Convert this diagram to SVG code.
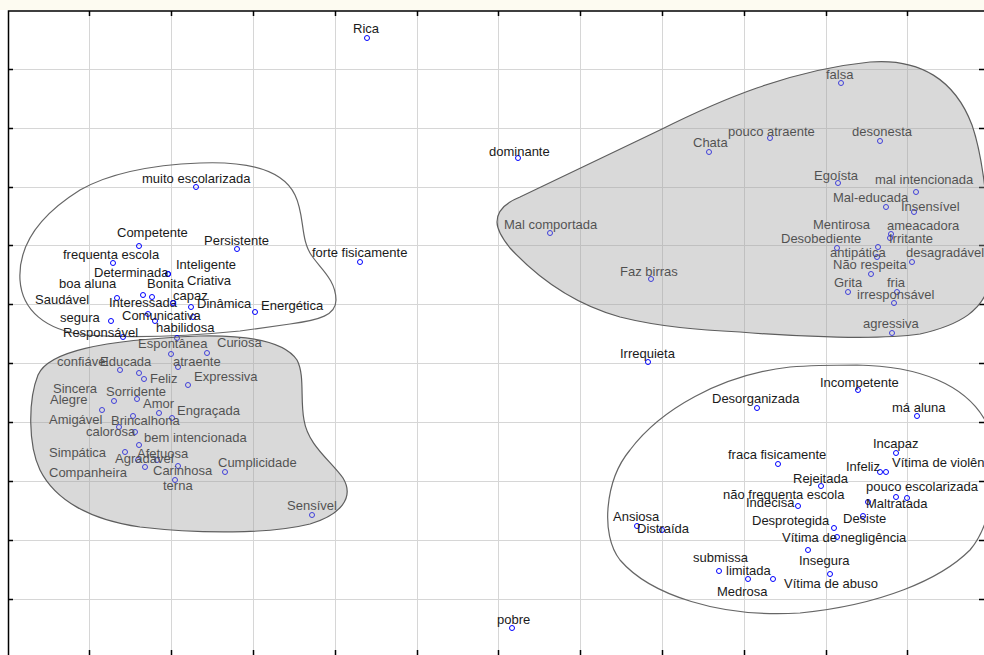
<svg xmlns="http://www.w3.org/2000/svg" width="984" height="655" viewBox="0 0 984 655">
<style>
text{font-family:"Liberation Sans",Arial,sans-serif;font-size:13px;fill:#1a1a1a}
.pt{fill:none;stroke:#0000ff;stroke-width:1}
.grid{stroke:#d6d6d6;stroke-width:1;fill:none}
.tick{stroke:#000;stroke-width:1.5;fill:none}
.blobw{fill:none;stroke:#666;stroke-width:1.2}
.blobg{fill:#a0a0a0;fill-opacity:0.4;stroke:#5e5e5e;stroke-width:1.2}
</style>
<rect x="0" y="0" width="984" height="655" fill="#ffffff"/>
<rect x="0" y="0" width="984" height="10" fill="#fdfbf1"/>
<g id="grid">
<path class="grid" d="M89.5 11V655M171.5 11V655M253.5 11V655M335.5 11V655M417.5 11V655M498.5 11V655M580.5 11V655M662.5 11V655M744.5 11V655M826.5 11V655M907.5 11V655"/>
<path class="grid" d="M8 69.5H984M8 128.5H984M8 187.5H984M8 245.5H984M8 304.5H984M8 363.5H984M8 422.5H984M8 481.5H984M8 540.5H984M8 599.5H984"/>
</g>
<g id="axes">
<path class="tick" d="M8.5 655V11H984"/>
<path class="tick" d="M89.5 11V16M171.5 11V16M253.5 11V16M335.5 11V16M417.5 11V16M498.5 11V16M580.5 11V16M662.5 11V16M744.5 11V16M826.5 11V16M907.5 11V16"/>
<path class="tick" d="M89.5 650V655M171.5 650V655M253.5 650V655M335.5 650V655M417.5 650V655M498.5 650V655M580.5 650V655M662.5 650V655M744.5 650V655M826.5 650V655M907.5 650V655"/>
<path class="tick" d="M8 69.5H13M8 128.5H13M8 187.5H13M8 245.5H13M8 304.5H13M8 363.5H13M8 422.5H13M8 481.5H13M8 540.5H13M8 599.5H13"/>
<path class="tick" d="M979 69.5H984M979 128.5H984M979 187.5H984M979 245.5H984M979 304.5H984M979 363.5H984M979 422.5H984M979 481.5H984M979 540.5H984M979 599.5H984"/>
</g>
<g id="outline-positive">
<path class="blobw" d="M200,163 C250,161 283,170 295,195 C305,215 300,240 312,256 C320,268 336,280 336,300 C336,315 320,320 290,324 L240,331 C190,336 130,338 85,335 C45,330 22,310 20,280 C18,245 40,215 80,190 C110,173 150,165 200,163 Z"/>
</g>
<g id="outline-vulnerable">
<path class="blobw" d="M857,365 C920,366 965,385 985,420 C1000,460 995,520 970,550 C940,580 880,605 800,613 C720,618 650,595 620,560 C600,535 605,480 630,450 C660,410 720,375 790,367 C815,365 835,365 857,365 Z"/>
</g>
<g id="nodes">
<g id="n-rica"><circle class="pt" cx="367" cy="38" r="2.5"/><text x="353" y="33">Rica</text></g>
<g id="n-dominante"><circle class="pt" cx="518" cy="158" r="2.5"/><text x="489" y="156">dominante</text></g>
<g id="n-forte"><circle class="pt" cx="360" cy="262" r="2.5"/><text x="312" y="257">forte fisicamente</text></g>
<g id="n-irrequieta"><circle class="pt" cx="648" cy="362" r="2.5"/><text x="620" y="358">Irrequieta</text></g>
<g id="n-pobre"><circle class="pt" cx="512" cy="628" r="2.5"/><text x="497" y="624">pobre</text></g>

<g id="n-muito"><circle class="pt" cx="196" cy="187" r="2.5"/><text x="142" y="183">muito escolarizada</text></g>
<g id="n-competente"><circle class="pt" cx="139" cy="246" r="2.5"/><text x="117" y="237">Competente</text></g>
<g id="n-persistente"><circle class="pt" cx="237" cy="249" r="2.5"/><text x="204" y="245">Persistente</text></g>
<g id="n-frequenta"><circle class="pt" cx="113" cy="263" r="2.5"/><text x="63" y="259">frequenta escola</text></g>
<g id="n-inteligente"><circle class="pt" cx="168" cy="274" r="2.5"/><text x="176" y="269">Inteligente</text></g>
<g id="n-determinada"><circle class="pt" cx="168" cy="274" r="2.5"/><text x="94" y="277">Determinada</text></g>
<g id="n-boa"><circle class="pt" cx="117" cy="298" r="2.5"/><text x="59" y="288">boa aluna</text></g>
<g id="n-bonita"><circle class="pt" cx="143" cy="295" r="2.5"/><text x="147" y="288">Bonita</text></g>
<g id="n-criativa"><circle class="pt" cx="193" cy="317" r="2.5"/><text x="187" y="285">Criativa</text></g>
<g id="n-saudavel"><circle class="pt" cx="148" cy="314" r="2.5"/><text x="35" y="304">Saudável</text></g>
<g id="n-interessada"><circle class="pt" cx="152" cy="297" r="2.5"/><text x="109" y="307">Interessada</text></g>
<g id="n-capaz"><circle class="pt" cx="173" cy="303" r="2.5"/><text x="173" y="300">capaz</text></g>
<g id="n-dinamica"><circle class="pt" cx="191" cy="307" r="2.5"/><text x="197" y="308">Dinâmica</text></g>
<g id="n-energetica"><circle class="pt" cx="255" cy="312" r="2.5"/><text x="261" y="310">Energética</text></g>
<g id="n-segura"><circle class="pt" cx="111" cy="321" r="2.5"/><text x="60" y="322">segura</text></g>
<g id="n-comunicativa"><circle class="pt" cx="155" cy="321" r="2.5"/><text x="122" y="320">Comunicativa</text></g>
<g id="n-responsavel"><circle class="pt" cx="123" cy="337" r="2.5"/><text x="63" y="337">Responsável</text></g>
<g id="n-habilidosa"><circle class="pt" cx="177" cy="338" r="2.5"/><text x="156" y="332">habilidosa</text></g>

<g id="n-espontanea"><circle class="pt" cx="171" cy="354" r="2.5"/><text x="138" y="348">Espontânea</text></g>
<g id="n-curiosa"><circle class="pt" cx="207" cy="353" r="2.5"/><text x="217" y="347">Curiosa</text></g>
<g id="n-confiavel"><circle class="pt" cx="120" cy="370" r="2.5"/><text x="57" y="366">confiável</text></g>
<g id="n-educada"><circle class="pt" cx="139" cy="373" r="2.5"/><text x="100" y="366">Educada</text></g>
<g id="n-atraente"><circle class="pt" cx="178" cy="367" r="2.5"/><text x="173" y="366">atraente</text></g>
<g id="n-feliz"><circle class="pt" cx="144" cy="379" r="2.5"/><text x="150" y="383">Feliz</text></g>
<g id="n-expressiva"><circle class="pt" cx="188" cy="385" r="2.5"/><text x="194" y="381">Expressiva</text></g>
<g id="n-sincera"><circle class="pt" cx="114" cy="401" r="2.5"/><text x="53" y="393">Sincera</text></g>
<g id="n-sorridente"><circle class="pt" cx="137" cy="399" r="2.5"/><text x="106" y="396">Sorridente</text></g>
<g id="n-alegre"><circle class="pt" cx="102" cy="410" r="2.5"/><text x="50" y="404">Alegre</text></g>
<g id="n-amor"><circle class="pt" cx="159" cy="413" r="2.5"/><text x="143" y="408">Amor</text></g>
<g id="n-engracada"><circle class="pt" cx="172" cy="418" r="2.5"/><text x="177" y="415">Engraçada</text></g>
<g id="n-amigavel"><circle class="pt" cx="119" cy="427" r="2.5"/><text x="49" y="424">Amigável</text></g>
<g id="n-brincalhona"><circle class="pt" cx="133" cy="416" r="2.5"/><text x="111" y="425">Brincalhona</text></g>
<g id="n-calorosa"><circle class="pt" cx="135" cy="432" r="2.5"/><text x="86" y="436">calorosa</text></g>
<g id="n-bem"><circle class="pt" cx="139" cy="445" r="2.5"/><text x="144" y="442">bem intencionada</text></g>
<g id="n-simpatica"><circle class="pt" cx="125" cy="452" r="2.5"/><text x="49" y="457">Simpática</text></g>
<g id="n-afetuosa"><circle class="pt" cx="157" cy="460" r="2.5"/><text x="137" y="458">Afetuosa</text></g>
<g id="n-agradavel"><circle class="pt" cx="138" cy="460" r="2.5"/><text x="115" y="463">Agradável</text></g>
<g id="n-carinhosa"><circle class="pt" cx="178" cy="466" r="2.5"/><text x="153" y="475">Carinhosa</text></g>
<g id="n-cumplicidade"><circle class="pt" cx="225" cy="472" r="2.5"/><text x="218" y="467">Cumplicidade</text></g>
<g id="n-companheira"><circle class="pt" cx="145" cy="467" r="2.5"/><text x="49" y="477">Companheira</text></g>
<g id="n-terna"><circle class="pt" cx="175" cy="480" r="2.5"/><text x="163" y="490">terna</text></g>
<g id="n-sensivel"><circle class="pt" cx="312" cy="515" r="2.5"/><text x="287" y="510">Sensível</text></g>

<g id="n-falsa"><circle class="pt" cx="841" cy="83" r="2.5"/><text x="826" y="79">falsa</text></g>
<g id="n-chata"><circle class="pt" cx="709" cy="152" r="2.5"/><text x="693" y="147">Chata</text></g>
<g id="n-pouco-atraente"><circle class="pt" cx="770" cy="138" r="2.5"/><text x="728" y="136">pouco atraente</text></g>
<g id="n-desonesta"><circle class="pt" cx="880" cy="141" r="2.5"/><text x="852" y="136">desonesta</text></g>
<g id="n-egoista"><circle class="pt" cx="838" cy="183" r="2.5"/><text x="814" y="180">Egoísta</text></g>
<g id="n-mal-intencionada"><circle class="pt" cx="916" cy="192" r="2.5"/><text x="875" y="184">mal intencionada</text></g>
<g id="n-mal-educada"><circle class="pt" cx="886" cy="207" r="2.5"/><text x="833" y="202">Mal-educada</text></g>
<g id="n-insensivel"><circle class="pt" cx="914" cy="212" r="2.5"/><text x="901" y="211">Insensível</text></g>
<g id="n-mentirosa"><circle class="pt" cx="878" cy="247" r="2.5"/><text x="813" y="229">Mentirosa</text></g>
<g id="n-ameacadora"><circle class="pt" cx="891" cy="234" r="2.5"/><text x="887" y="230">ameacadora</text></g>
<g id="n-desobediente"><circle class="pt" cx="837" cy="248" r="2.5"/><text x="781" y="243">Desobediente</text></g>
<g id="n-irritante"><circle class="pt" cx="890" cy="238" r="2.5"/><text x="889" y="243">Irritante</text></g>
<g id="n-antipatica"><circle class="pt" cx="877" cy="257" r="2.5"/><text x="830" y="257">antipática</text></g>
<g id="n-desagradavel"><circle class="pt" cx="912" cy="262" r="2.5"/><text x="906" y="257">desagradável</text></g>
<g id="n-nao-respeita"><circle class="pt" cx="871" cy="274" r="2.5"/><text x="833" y="269">Não respeita</text></g>
<g id="n-grita"><circle class="pt" cx="848" cy="292" r="2.5"/><text x="834" y="287">Grita</text></g>
<g id="n-fria"><circle class="pt" cx="897" cy="292" r="2.5"/><text x="887" y="287">fria</text></g>
<g id="n-irresponsavel"><circle class="pt" cx="894" cy="303" r="2.5"/><text x="857" y="299">irresponsável</text></g>
<g id="n-agressiva"><circle class="pt" cx="892" cy="333" r="2.5"/><text x="863" y="328">agressiva</text></g>
<g id="n-faz-birras"><circle class="pt" cx="651" cy="279" r="2.5"/><text x="620" y="276">Faz birras</text></g>
<g id="n-mal-comportada"><circle class="pt" cx="550" cy="233" r="2.5"/><text x="504" y="229">Mal comportada</text></g>

<g id="n-incompetente"><circle class="pt" cx="858" cy="390" r="2.5"/><text x="820" y="387">Incompetente</text></g>
<g id="n-desorganizada"><circle class="pt" cx="757" cy="408" r="2.5"/><text x="712" y="403">Desorganizada</text></g>
<g id="n-ma-aluna"><circle class="pt" cx="917" cy="416" r="2.5"/><text x="892" y="412">má aluna</text></g>
<g id="n-incapaz"><circle class="pt" cx="896" cy="453" r="2.5"/><text x="873" y="448">Incapaz</text></g>
<g id="n-violencia"><circle class="pt" cx="886" cy="472" r="2.5"/><text x="892" y="467">Vítima de violência</text></g>
<g id="n-fraca"><circle class="pt" cx="778" cy="464" r="2.5"/><text x="728" y="459">fraca fisicamente</text></g>
<g id="n-infeliz"><circle class="pt" cx="880" cy="472" r="2.5"/><text x="846" y="471">Infeliz</text></g>
<g id="n-rejeitada"><circle class="pt" cx="821" cy="486" r="2.5"/><text x="793" y="483">Rejeitada</text></g>
<g id="n-pouco-escolarizada"><circle class="pt" cx="907" cy="498" r="2.5"/><text x="866" y="491">pouco escolarizada</text></g>
<g id="n-nao-frequenta"><circle class="pt" cx="868" cy="502" r="2.5"/><text x="723" y="499">não frequenta escola</text></g>
<g id="n-indecisa"><circle class="pt" cx="798" cy="506" r="2.5"/><text x="746" y="507">Indecisa</text></g>
<g id="n-maltratada"><circle class="pt" cx="896" cy="497" r="2.5"/><text x="866" y="508">Maltratada</text></g>
<g id="n-desiste"><circle class="pt" cx="863" cy="516" r="2.5"/><text x="843" y="523">Desiste</text></g>
<g id="n-ansiosa"><circle class="pt" cx="637" cy="526" r="2.5"/><text x="613" y="521">Ansiosa</text></g>
<g id="n-distraida"><circle class="pt" cx="662" cy="530" r="2.5"/><text x="637" y="533">Distraída</text></g>
<g id="n-desprotegida"><circle class="pt" cx="834" cy="528" r="2.5"/><text x="752" y="525">Desprotegida</text></g>
<g id="n-negligencia"><circle class="pt" cx="837" cy="537" r="2.5"/><text x="782" y="542">Vítima de negligência</text></g>
<g id="n-submissa"><circle class="pt" cx="719" cy="571" r="2.5"/><text x="693" y="562">submissa</text></g>
<g id="n-limitada"><circle class="pt" cx="748" cy="579" r="2.5"/><text x="726" y="575">limitada</text></g>
<g id="n-insegura"><circle class="pt" cx="830" cy="574" r="2.5"/><text x="799" y="565">Insegura</text></g>
<g id="n-medrosa"><circle class="pt" cx="773" cy="579" r="2.5"/><text x="717" y="596">Medrosa</text></g>
<g id="n-abuso"><circle class="pt" cx="808" cy="550" r="2.5"/><text x="784" y="588">Vítima de abuso</text></g>
</g>
<g id="region-affective">
<path class="blobg" d="M200,336 C250,335 285,342 297,360 C305,375 300,400 304,420 C308,445 330,460 343,478 C355,498 340,515 310,524 C270,534 200,534 140,527 C90,520 55,500 40,470 C28,445 28,400 38,375 C48,352 100,340 200,336 Z"/>
</g>
<g id="region-negative">
<path class="blobg" d="M497,222 C497,212 505,203 520,197 L660,130 C720,100 790,70 870,62 C920,58 955,80 972,125 C984,160 990,220 990,280 C985,310 960,325 920,334 C880,340 800,337 740,332 C700,330 660,327 620,317 C570,303 535,275 510,248 C502,238 497,230 497,222 Z"/>
</g>
</svg>
